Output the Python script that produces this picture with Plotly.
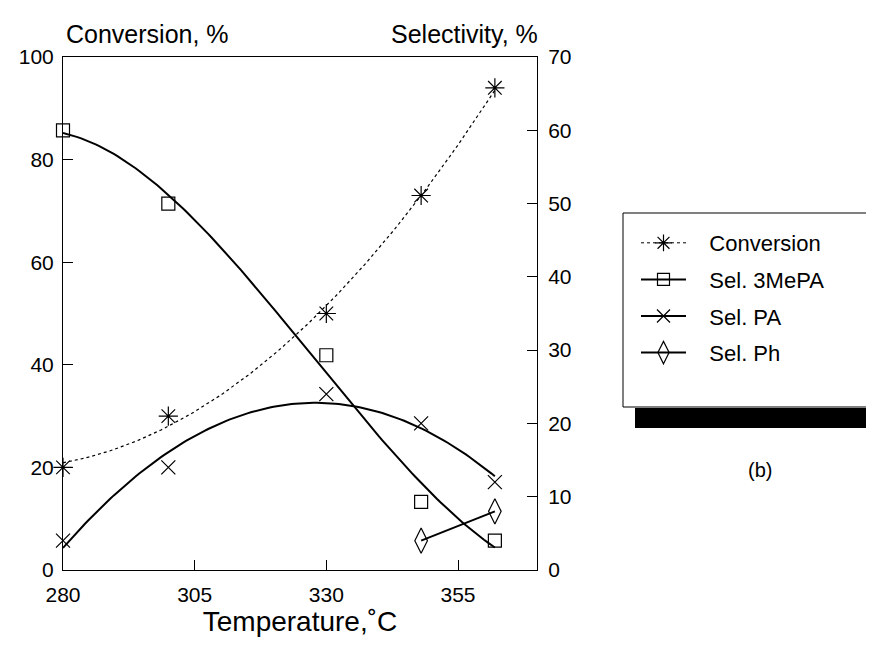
import numpy as np
import plotly.graph_objects as go

# ---- data ----
temperature = [280, 300, 330, 348, 362]
conversion = [20, 30, 50, 73, 94]          # left axis, %
sel_3mepa = [60, 50, 29.3, 9.3, 4]          # right axis, %
sel_pa = [4, 14, 24, 20, 12]                # right axis, %
temp_ph = [348, 362]
sel_ph = [4, 8]                             # right axis, %

x_ticks = [280, 305, 330, 355]
left_ticks = [0, 20, 40, 60, 80, 100]
right_ticks = [0, 10, 20, 30, 40, 50, 60, 70]

legend_names = ["Conversion", "Sel. 3MePA", "Sel. PA", "Sel. Ph"]

FONT = "Liberation Sans, Arial, sans-serif"
BLACK = "#000000"

# trend curves fitted to the data (as the original regression lines)
grid = np.linspace(min(temperature), max(temperature), 120)
fit_conv = np.polyval(np.polyfit(temperature, conversion, 2), grid)
fit_3me = np.polyval(np.polyfit(temperature, sel_3mepa, 3), grid)
fit_pa = np.polyval(np.polyfit(temperature, sel_pa, 2), grid)

fig = go.Figure()

# curves
fig.add_trace(go.Scatter(x=grid, y=fit_conv, mode="lines", yaxis="y",
                         line=dict(color=BLACK, width=1.2, dash="dot"),
                         showlegend=False, hoverinfo="skip"))
fig.add_trace(go.Scatter(x=grid, y=fit_3me, mode="lines", yaxis="y2",
                         line=dict(color=BLACK, width=2),
                         showlegend=False, hoverinfo="skip"))
fig.add_trace(go.Scatter(x=grid, y=fit_pa, mode="lines", yaxis="y2",
                         line=dict(color=BLACK, width=2),
                         showlegend=False, hoverinfo="skip"))
fig.add_trace(go.Scatter(x=temp_ph, y=sel_ph, mode="lines", yaxis="y2",
                         line=dict(color=BLACK, width=2),
                         showlegend=False, hoverinfo="skip"))

# markers
fig.add_trace(go.Scatter(x=temperature, y=conversion, mode="markers", yaxis="y",
                         marker=dict(symbol="asterisk-open", size=16, color=BLACK,
                                     line=dict(color=BLACK, width=1.2)),
                         showlegend=False, cliponaxis=False))
fig.add_trace(go.Scatter(x=temperature, y=sel_3mepa, mode="markers", yaxis="y2",
                         marker=dict(symbol="square-open", size=13, color=BLACK,
                                     line=dict(color=BLACK, width=1.2)),
                         showlegend=False, cliponaxis=False))
fig.add_trace(go.Scatter(x=temperature, y=sel_pa, mode="markers", yaxis="y2",
                         marker=dict(symbol="x-thin-open", size=14, color=BLACK,
                                     line=dict(color=BLACK, width=1.2)),
                         showlegend=False, cliponaxis=False))
fig.add_trace(go.Scatter(x=temp_ph, y=sel_ph, mode="markers", yaxis="y2",
                         marker=dict(symbol="diamond-tall-open", size=18, color=BLACK,
                                     line=dict(color=BLACK, width=1.2)),
                         showlegend=False, cliponaxis=False))

# legend entries
legend_styles = [
    ("asterisk-open", 14, dict(color=BLACK, width=1, dash="dot")),
    ("square-open", 12, dict(color=BLACK, width=2)),
    ("x-thin-open", 13, dict(color=BLACK, width=2)),
    ("diamond-tall-open", 16, dict(color=BLACK, width=2)),
]
for i, (name, (sym, size, ln)) in enumerate(zip(legend_names, legend_styles)):
    fig.add_trace(go.Scatter(x=[None], y=[None], mode="lines+markers",
                             name="\u00a0\u00a0\u00a0" + name,
                             legendgroup=f"g{i}", line=ln,
                             marker=dict(symbol=sym, size=size, color=BLACK,
                                         line=dict(color=BLACK, width=1.2))))

W, H = 874, 646
L, R, T, B = 55, 345, 49, 84
pw, ph = W - L - R, H - T - B

def px(xp):
    return (xp - L) / pw

def py(yp):
    return 1 - (yp - T) / ph

fig.update_layout(
    width=W, height=H,
    margin=dict(l=L, r=R, t=T, b=B, pad=0),
    paper_bgcolor="white", plot_bgcolor="white",
    font=dict(family=FONT, color=BLACK, size=20),
    xaxis=dict(range=[280, 370], tickvals=x_ticks, ticks="inside", ticklen=10,
               tickwidth=1, tickcolor=BLACK, showline=True, linecolor=BLACK,
               linewidth=1, mirror=True, showgrid=False, zeroline=False,
               tickfont=dict(size=21), ticklabelstandoff=6,
               title=dict(text="Temperature,˚C", font=dict(size=28), standoff=6)),
    yaxis=dict(range=[0, 100], tickvals=left_ticks, ticks="inside", ticklen=10,
               tickwidth=1, tickcolor=BLACK, showline=True, linecolor=BLACK,
               linewidth=1, showgrid=False, zeroline=False,
               tickfont=dict(size=21), ticklabelstandoff=4),
    yaxis2=dict(range=[0, 70], tickvals=right_ticks, ticks="inside", ticklen=10,
                tickwidth=1, tickcolor=BLACK, showline=True, linecolor=BLACK,
                linewidth=1, showgrid=False, zeroline=False, overlaying="y",
                side="right", tickfont=dict(size=21), ticklabelstandoff=6),
    legend=dict(x=px(628), y=py(214), xanchor="left", yanchor="top",
                bgcolor="rgba(0,0,0,0)", borderwidth=0,
                font=dict(size=22, family=FONT), tracegroupgap=5,
                itemwidth=45, traceorder="grouped"),
    showlegend=True,
)

# legend frame and its shadow
fig.add_shape(type="rect", xref="paper", yref="paper",
              x0=px(627), x1=px(890), y0=py(420), y1=py(400),
              fillcolor=BLACK, line=dict(width=0), layer="below")
fig.add_shape(type="rect", xref="paper", yref="paper",
              x0=px(615), x1=px(890), y0=py(399), y1=py(205),
              fillcolor="white", line=dict(color=BLACK, width=1), layer="below")

fig.add_annotation(text="Conversion, %", xref="paper", yref="paper",
                   x=px(56), y=1 + 7 / ph, xanchor="left", yanchor="bottom",
                   showarrow=False, font=dict(size=25, family=FONT))
fig.add_annotation(text="Selectivity, %", xref="paper", yref="paper",
                   x=px(532), y=1 + 7 / ph, xanchor="right", yanchor="bottom",
                   showarrow=False, font=dict(size=25, family=FONT))
fig.add_annotation(text="(b)", xref="paper", yref="paper",
                   x=px(752), y=py(462), xanchor="center", yanchor="middle",
                   showarrow=False, font=dict(size=20, family=FONT))

fig.write_html("out.html")
